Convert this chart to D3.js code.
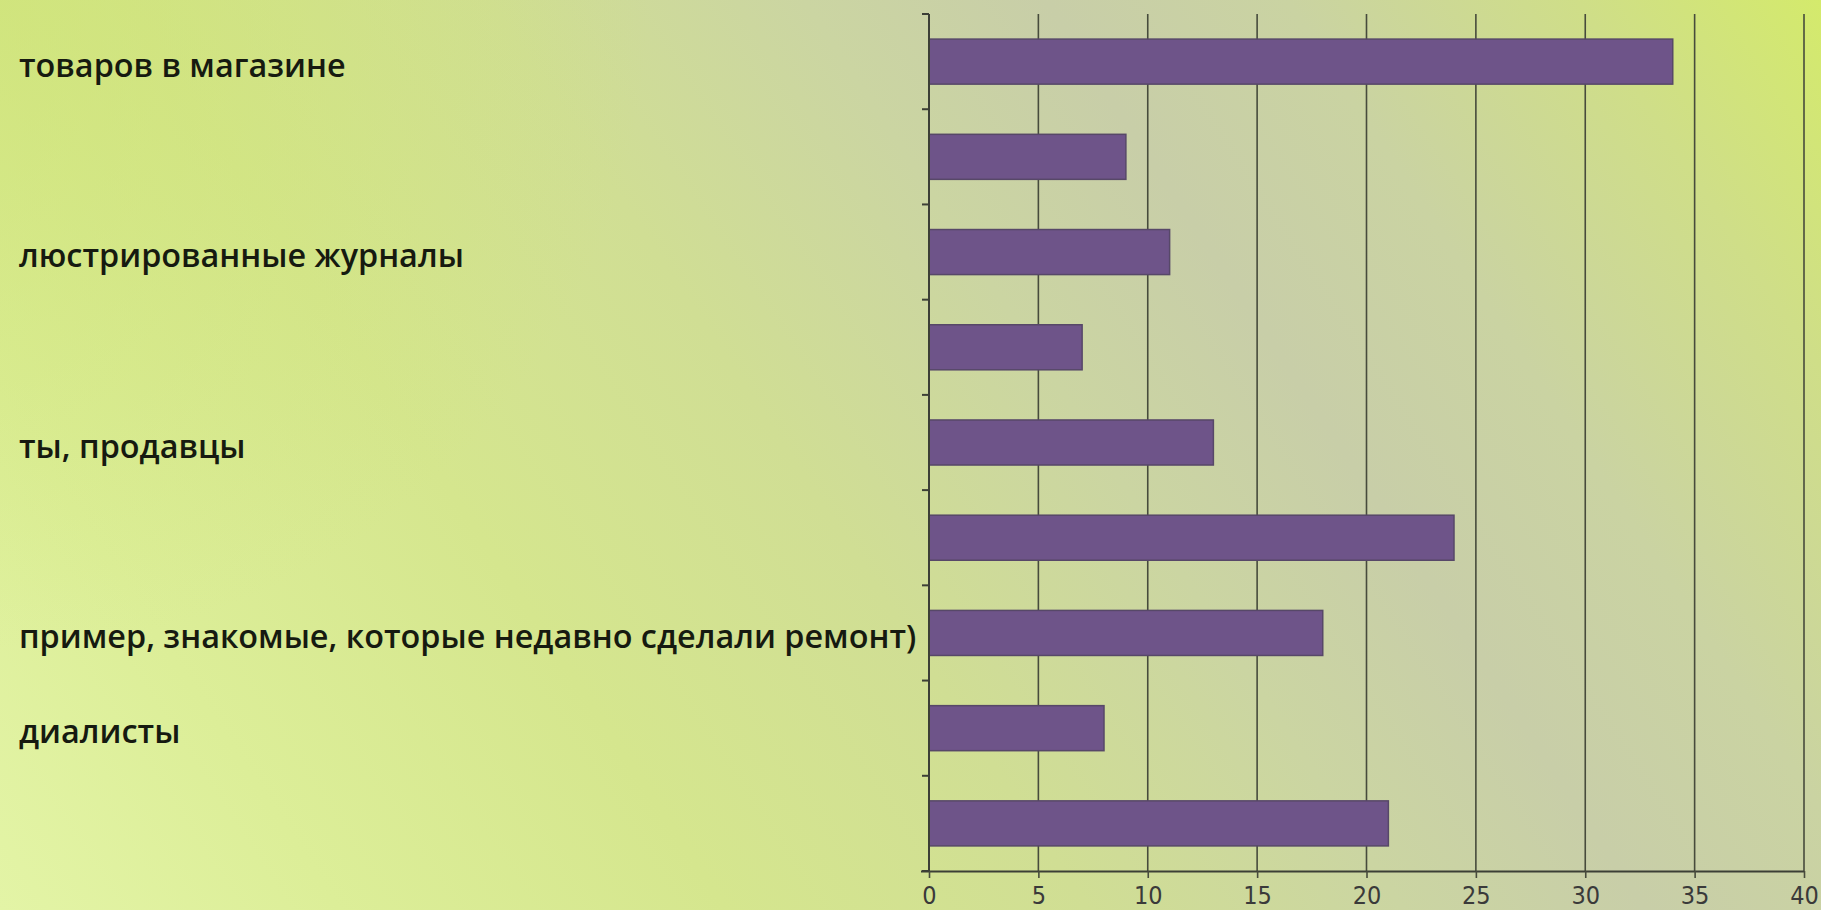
<!DOCTYPE html>
<html>
<head>
<meta charset="utf-8">
<script src="https://cdn.jsdelivr.net/npm/d3@7"></script>
<style>
  html, body { margin: 0; padding: 0; overflow: hidden; background: #d6e696; }
  svg { display: block; }
</style>
</head>
<body>
<svg id="chart" width="1821" height="910"></svg>
<script>
// Visible (left-clipped) category label text, top to bottom
const categories = [
  "товаров в магазине",
  "",
  "люстрированные журналы",
  "",
  "ты, продавцы",
  "",
  "пример, знакомые, которые недавно сделали ремонт)",
  "диалисты",
  ""
];
const values = [34, 9, 11, 7, 13, 24, 18, 8, 21];
const xTicks = [0, 5, 10, 15, 20, 25, 30, 35, 40];

const W = 1821, H = 910;
const svg = d3.select("#chart");
const defs = svg.append("defs");

// background gradient
const g1 = defs.append("linearGradient").attr("id", "bg")
  .attr("gradientUnits", "userSpaceOnUse")
  .attr("x1", 0).attr("y1", 910).attr("x2", 1687).attr("y2", -202);
[[0, "#e3f4a6"], [0.14, "#dcee98"], [0.3, "#d5e68e"], [0.45, "#d0de94"],
 [0.58, "#cbd5a2"], [0.68, "#c8cea8"], [0.78, "#cad3a2"], [0.9, "#cfde88"], [1, "#d4ea6c"]]
  .forEach(([o, c]) => g1.append("stop").attr("offset", o).attr("stop-color", c));
svg.append("rect").attr("width", W).attr("height", H).attr("fill", "url(#bg)");

// overlay: top-left lime tint
const g2 = defs.append("radialGradient").attr("id", "tl")
  .attr("gradientUnits", "userSpaceOnUse")
  .attr("cx", 0).attr("cy", 0).attr("r", 650);
g2.append("stop").attr("offset", 0).attr("stop-color", "#cce270").attr("stop-opacity", 0.6);
g2.append("stop").attr("offset", 1).attr("stop-color", "#cce270").attr("stop-opacity", 0);
svg.append("rect").attr("width", W).attr("height", H).attr("fill", "url(#tl)");

const x = d3.scaleLinear().domain([0, 40]).range([929, 1804]);
const y = d3.scaleBand().domain(d3.range(values.length)).range([14, 871])
  .paddingInner(0.527).paddingOuter(0.2635);

const gridColor = "#474b3c";

// vertical gridlines
svg.append("g").selectAll("line").data(xTicks.filter(d => d > 0)).join("line")
  .attr("x1", d => x(d)).attr("x2", d => x(d))
  .attr("y1", y.range()[0]).attr("y2", y.range()[1])
  .attr("stroke", gridColor).attr("stroke-width", 1.6);

// bars
svg.append("g").selectAll("rect").data(values).join("rect")
  .attr("x", x(0))
  .attr("y", (d, i) => y(i))
  .attr("width", d => x(d) - x(0))
  .attr("height", y.bandwidth())
  .attr("fill", "#6e5489")
  .attr("stroke", "#574868")
  .attr("stroke-width", 1.5);

// bottom axis
const xAxis = d3.axisBottom(x).tickValues(xTicks).tickSize(7).tickSizeOuter(0).tickPadding(8);
const gx = svg.append("g").attr("transform", `translate(0,${y.range()[1]})`).call(xAxis);
gx.select(".domain").attr("stroke", "#3c3f36").attr("stroke-width", 2)
  .attr("d", `M${x(0) - 8},0.5H${x(40)}`);
gx.selectAll(".tick line").attr("stroke", gridColor).attr("stroke-width", 1.6);
gx.selectAll(".tick text")
  .attr("fill", "#3a3a3a")
  .style("font-family", "'DejaVu Sans Condensed', 'DejaVu Sans', sans-serif")
  .style("font-stretch", "condensed")
  .style("font-size", "25px");

// left category axis (band boundary ticks)
const bounds = d3.range(values.length + 1).map(i => y.range()[0] + i * y.step());
const gy = svg.append("g");
gy.append("line").attr("x1", x(0)).attr("x2", x(0))
  .attr("y1", y.range()[0]).attr("y2", y.range()[1])
  .attr("stroke", "#3c3f36").attr("stroke-width", 2);
gy.selectAll("line.t").data(bounds).join("line").attr("class", "t")
  .attr("x1", x(0) - 7).attr("x2", x(0))
  .attr("y1", d => d).attr("y2", d => d)
  .attr("stroke", "#3c3f36").attr("stroke-width", 2);

// category labels (left-clipped in the original)
svg.append("g").selectAll("text").data(categories).join("text")
  .attr("x", 19)
  .attr("y", (d, i) => y(i) + y.bandwidth() / 2)
  .attr("dy", "0.47em")
  .attr("fill", "#161a10")
  .style("font-family", "'Open Sans', sans-serif")
  .style("font-weight", 600)
  .style("font-size", "32.4px")
  .text(d => d);
</script>
</body>
</html>
